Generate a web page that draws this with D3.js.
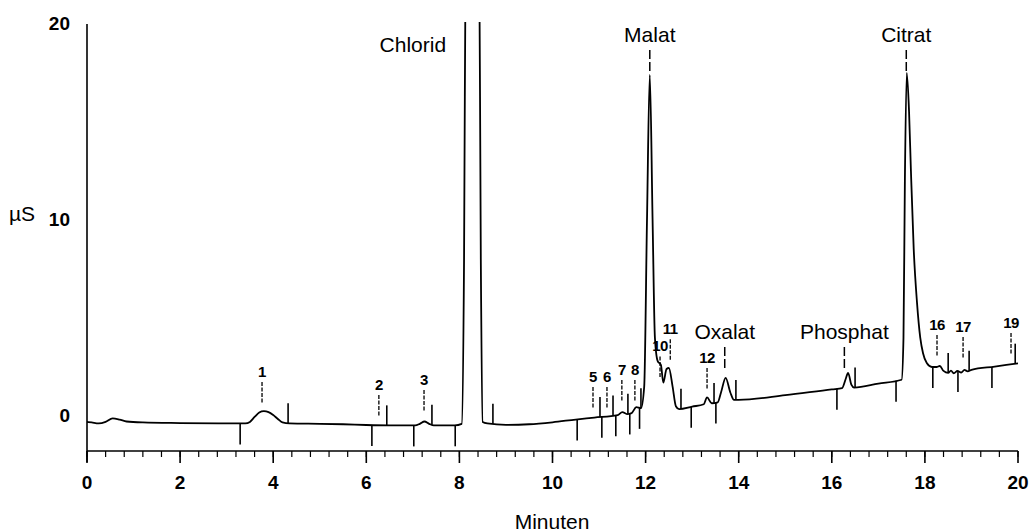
<!DOCTYPE html>
<html><head><meta charset="utf-8">
<script src="https://cdn.jsdelivr.net/npm/d3@7"></script>
<style>body{margin:0;background:#fff}svg{display:block}</style>
</head><body><svg id="c" width="1033" height="532"></svg>
<script>
// ---- data ----
const time = [0.00,0.10,0.25,0.40,0.55,0.70,0.85,1.20,2.00,3.00,3.40,3.50,3.60,3.70,3.80,3.90,4.00,4.10,4.20,4.35,5.00,5.50,6.00,6.50,7.05,7.15,7.25,7.35,7.45,7.90,8.05,8.10,8.14,8.30,8.42,8.46,8.50,8.60,9.00,9.50,10.00,10.50,10.90,11.40,11.50,11.60,11.70,11.80,11.90,11.97,12.03,12.09,12.15,12.20,12.26,12.33,12.38,12.45,12.50,12.58,12.65,12.72,13.00,13.25,13.32,13.42,13.55,13.62,13.72,13.82,13.90,14.00,15.00,16.00,16.22,16.30,16.35,16.42,16.48,17.00,17.50,17.54,17.57,17.61,17.66,17.70,17.76,17.83,17.90,17.96,18.04,18.15,18.25,18.32,18.40,18.50,18.56,18.62,18.70,18.78,18.85,18.92,19.00,19.50,20.00];
const signal = [-0.30,-0.33,-0.38,-0.30,-0.12,-0.18,-0.28,-0.33,-0.36,-0.38,-0.38,-0.30,-0.05,0.18,0.25,0.20,0.05,-0.15,-0.33,-0.38,-0.40,-0.42,-0.46,-0.48,-0.48,-0.40,-0.28,-0.40,-0.48,-0.48,-0.40,8,26,32,26,8,-0.30,-0.38,-0.45,-0.42,-0.32,-0.18,-0.08,0.05,0.20,0.10,0.15,0.45,0.40,1.5,10,17.4,10,4,2.8,2.6,1.7,2.4,2.45,1.5,0.5,0.35,0.48,0.60,0.95,0.65,0.70,1.2,1.95,1.2,0.82,0.82,1.06,1.36,1.42,1.9,2.2,1.6,1.45,1.65,1.85,4,12,17.5,15.5,12.5,8.5,5.8,4.0,3.2,2.7,2.5,2.5,2.55,2.3,2.2,2.32,2.18,2.3,2.22,2.35,2.28,2.35,2.52,2.69];

const xTickValues = [0,2,4,6,8,10,12,14,16,18,20];
const yTickValues = [0,10,20];

const peakNames = ["1","2","3","5","6","7","8","10","11","12","16","17","19"];
const peakTimes = [3.76,6.27,7.24,10.87,11.17,11.49,11.77,12.31,12.53,13.32,18.26,18.82,19.85];
const peakLabelLevels = [2.24,1.58,1.84,1.99,1.99,2.35,2.35,3.55,4.42,2.96,4.64,4.54,4.74];

const compoundNames = ["Chlorid","Malat","Oxalat","Phosphat","Citrat"];
const compoundTimes = [7.0,12.09,13.70,16.27,17.60];
const compoundLabelLevels = [18.93,19.44,4.29,4.29,19.44];
const compoundHasLine = [false,true,true,true,true];

const markersUp = [4.32,6.44,7.41,8.72,11.02,11.30,11.62,11.90,12.76,13.47,13.94,16.50,18.50,18.95,19.94];
const markersDown = [3.29,6.12,7.02,7.91,10.53,11.06,11.36,11.66,11.87,12.98,13.51,16.11,17.38,18.17,18.71,19.44];

// ---- drawing ----
const svg = d3.select("#c");
const x = d3.scaleLinear().domain([0,20]).range([87,1018]);
const y = d3.scaleLinear().domain([0,20]).range([416,24]);
const axisY = 451;

const yAt = t => {
  const i = d3.bisectLeft(time, t);
  if (i <= 0) return signal[0];
  if (i >= time.length) return signal[signal.length-1];
  const t0 = time[i-1], t1 = time[i];
  return signal[i-1] + (signal[i]-signal[i-1])*(t-t0)/(t1-t0);
};

svg.append("clipPath").attr("id","clip").append("rect")
  .attr("x",80).attr("y",22).attr("width",950).attr("height",440);

// axes
svg.append("line").attr("x1",x(0)).attr("x2",x(0)).attr("y1",24).attr("y2",axisY+11)
  .attr("stroke","#000").attr("stroke-width",1.6);
svg.append("line").attr("x1",x(0)).attr("x2",x(20)).attr("y1",axisY).attr("y2",axisY)
  .attr("stroke","#000").attr("stroke-width",1.6);

const minor = d3.range(0, 20.001, 0.4);
svg.append("g").selectAll("line").data(minor).join("line")
  .attr("x1",d=>x(d)).attr("x2",d=>x(d)).attr("y1",axisY).attr("y2",axisY+6)
  .attr("stroke","#000").attr("stroke-width",1.2);
svg.append("g").selectAll("line").data(xTickValues).join("line")
  .attr("x1",d=>x(d)).attr("x2",d=>x(d)).attr("y1",axisY).attr("y2",axisY+12)
  .attr("stroke","#000").attr("stroke-width",1.6);

const tickFont = "'Liberation Sans', Arial, sans-serif";
svg.append("g").selectAll("text").data(xTickValues).join("text")
  .attr("x",d=>x(d)).attr("y",489).attr("text-anchor","middle")
  .attr("font-family",tickFont).attr("font-weight","bold").attr("font-size",19)
  .text(d=>d);
svg.append("g").selectAll("text").data(yTickValues).join("text")
  .attr("x",70).attr("y",d=>y(d)+6).attr("text-anchor","end")
  .attr("font-family",tickFont).attr("font-weight","bold").attr("font-size",19)
  .text(d=>d);

svg.append("text").attr("x",552).attr("y",529).attr("text-anchor","middle")
  .attr("font-family",tickFont).attr("font-size",21).text("Minuten");
svg.append("text").attr("x",22).attr("y",221).attr("text-anchor","middle")
  .attr("font-family",tickFont).attr("font-size",21).text("µS");

// trace
const line = d3.line().x((d,i)=>x(time[i])).y((d,i)=>y(signal[i])).curve(d3.curveMonotoneX);
svg.append("path").datum(signal).attr("d",line).attr("clip-path","url(#clip)")
  .attr("fill","none").attr("stroke","#000").attr("stroke-width",1.8).attr("stroke-linejoin","round");

// integration markers
svg.append("g").selectAll("line").data(markersUp).join("line")
  .attr("x1",d=>x(d)).attr("x2",d=>x(d)).attr("y1",d=>y(yAt(d))).attr("y2",d=>y(yAt(d))-20)
  .attr("stroke","#000").attr("stroke-width",1.6);
svg.append("g").selectAll("line").data(markersDown).join("line")
  .attr("x1",d=>x(d)).attr("x2",d=>x(d)).attr("y1",d=>y(yAt(d))).attr("y2",d=>y(yAt(d))+21)
  .attr("stroke","#000").attr("stroke-width",1.6);

// peak number labels
const pk = svg.append("g");
peakNames.forEach((n,i)=>{
  const cx = x(peakTimes[i]), cy = y(peakLabelLevels[i]);
  pk.append("text").attr("x",cx).attr("y",cy+5).attr("text-anchor","middle")
    .attr("font-family",tickFont).attr("font-weight","bold").attr("font-size",15)
    .attr("letter-spacing",-0.5).text(n);
  pk.append("line").attr("x1",cx).attr("x2",cx).attr("y1",cy+10).attr("y2",cy+31)
    .attr("stroke","#000").attr("stroke-width",1.3).attr("stroke-dasharray","4,1.5");
});

// compound labels
const cp = svg.append("g");
compoundNames.forEach((n,i)=>{
  const cx = x(compoundTimes[i]), cy = y(compoundLabelLevels[i]);
  cp.append("text").attr("x",cx).attr("y",cy+7).attr("text-anchor","middle")
    .attr("font-family",tickFont).attr("font-size",21).text(n);
  if (compoundHasLine[i]) {
    cp.append("line").attr("x1",cx).attr("x2",cx).attr("y1",cy+15).attr("y2",cy+36)
      .attr("stroke","#000").attr("stroke-width",1.5).attr("stroke-dasharray","9,3");
  }
});
</script></body></html>
